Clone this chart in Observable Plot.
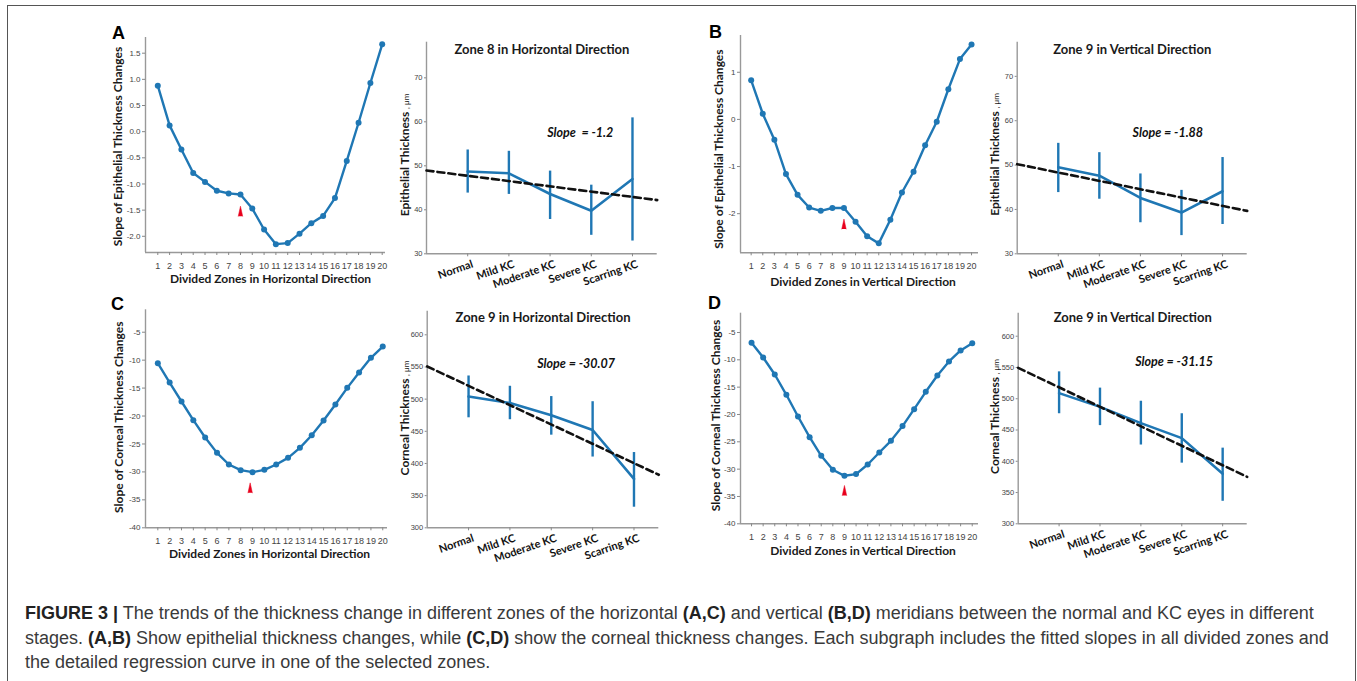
<!DOCTYPE html>
<html>
<head>
<meta charset="utf-8">
<script src="https://cdn.jsdelivr.net/npm/d3@7"></script>
<script src="https://cdn.jsdelivr.net/npm/@observablehq/plot@0.6"></script>
<style>
  body { margin: 0; background: #fff; }
  #fig { position: relative; width: 1357px; height: 681px; overflow: hidden; background: #fff; }
  #border { position: absolute; left: 7px; top: 5px; width: 1349px; height: 720px; border: 1.5px solid #555; box-sizing: border-box; }
  .panel { position: absolute; }
  .plabel { position: absolute; font: bold 18px "Liberation Sans", Arial, sans-serif; line-height: 18px; color: #000; }
  #caption { position: absolute; left: 25px; top: 601px; font: 18px "Liberation Sans", Arial, sans-serif; line-height: 24.5px; color: #3a3a3a; white-space: nowrap; }
  #caption b { color: #222; }
</style>
</head>
<body>
<div id="fig">
  <div id="border"></div>
  <div class="plabel" style="left:112px;top:24px">A</div>
  <div class="plabel" style="left:709px;top:23px">B</div>
  <div class="plabel" style="left:111px;top:295px">C</div>
  <div class="plabel" style="left:708px;top:294px">D</div>
  <div id="caption"><b>FIGURE 3 |</b> The trends of the thickness change in different zones of the horizontal <b>(A,C)</b> and vertical <b>(B,D)</b> meridians between the normal and KC eyes in different<br>stages. <b>(A,B)</b> Show epithelial thickness changes, while <b>(C,D)</b> show the corneal thickness changes. Each subgraph includes the fitted slopes in all divided zones and<br>the detailed regression curve in one of the selected zones.</div>
</div>
<script>
// ---------------- DATA ----------------
const zones = [1, 2, 3, 4, 5, 6, 7, 8, 9, 10, 11, 12, 13, 14, 15, 16, 17, 18, 19, 20];

// Slopes of thickness change per zone
const slopeEpiHorizontal = [0.88, 0.12, -0.34, -0.79, -0.96, -1.13, -1.18, -1.20, -1.47, -1.87, -2.15, -2.13, -1.95, -1.75, -1.61, -1.27, -0.56, 0.17, 0.93, 1.67];
const slopeEpiVertical   = [0.83, 0.12, -0.43, -1.16, -1.60, -1.87, -1.94, -1.88, -1.88, -2.17, -2.48, -2.63, -2.13, -1.55, -1.11, -0.55, -0.05, 0.64, 1.28, 1.59];
const slopeCorHorizontal = [-10.55, -14.0, -17.4, -20.74, -23.84, -26.59, -28.67, -29.69, -30.04, -29.63, -28.67, -27.48, -25.69, -23.43, -20.80, -17.94, -14.96, -12.21, -9.59, -7.56];
const slopeCorVertical   = [-6.89, -9.57, -12.68, -16.40, -20.37, -24.15, -27.56, -30.12, -31.22, -30.91, -29.15, -26.95, -24.82, -22.13, -19.02, -15.85, -12.87, -10.30, -8.29, -6.95];

// Selected-zone markers (zone, value at arrow base)
const markerZones  = [8, 9, 8.8, 9];
const markerValues = [-1.52, -2.22, -32.85, -33.9];

// Stages
const stages = ["Normal", "Mild KC", "Moderate KC", "Severe KC", "Scarring KC"];
const stagePos = [1, 2, 3, 4, 5];

// Zone 8 horizontal, epithelial
const epiHMean = [48.7, 48.3, 43.6, 39.8, 47.0];
const epiHLow  = [43.8, 43.5, 37.8, 34.2, 32.9];
const epiHHigh = [53.6, 53.3, 48.8, 45.6, 60.9];
// Zone 9 vertical, epithelial
const epiVMean = [49.5, 47.6, 42.6, 39.3, 44.1];
const epiVLow  = [43.8, 42.3, 37.0, 34.1, 36.6];
const epiVHigh = [54.9, 52.8, 48.0, 44.3, 51.7];
// Zone 9 horizontal, corneal
const corHMean = [504, 494, 475, 452, 376];
const corHLow  = [471, 468, 444, 410, 332];
const corHHigh = [536, 520, 504, 496, 417];
// Zone 9 vertical, corneal
const corVMean = [509, 487, 461, 437, 380];
const corVLow  = [476, 457, 426, 397, 336];
const corVHigh = [543, 517, 496, 476, 421];

// Regression fits (intercept at x = 0, slope per stage)
const fitIntercepts = [48.93, 50.2, 550.8, 549.4];
const fitSlopes     = [-1.2, -1.88, -30.07, -31.15];
const slopeLabels   = ["Slope\u00a0 = -1.2", "Slope = -1.88", "Slope = -30.07", "Slope = -31.15"];

// Tick values
const epiHTicks = [-2, -1.5, -1, -0.5, 0, 0.5, 1, 1.5];
const epiVTicks = [-2, -1, 0, 1];
const corTicks = [-40, -35, -30, -25, -20, -15, -10, -5];
const epiThickTicks = [30, 40, 50, 60, 70];
const corThickTicks = [300, 350, 400, 450, 500, 550, 600];

// ---------------- STYLE ----------------
const BLUE = "#1f77b4";
const TICKFONT = "'Liberation Sans', Arial, sans-serif";
const BOLDFONT = "Lato, 'Open Sans', sans-serif";
const AXISGRAY = "#999";

const fig = document.getElementById("fig");
function place(svg, left, top) {
  const d = document.createElement("div");
  d.className = "panel";
  d.style.left = left + "px";
  d.style.top = top + "px";
  d.appendChild(svg);
  fig.appendChild(d);
}

function zonePanel(cfg) {
  const data = zones.map((z, i) => ({zone: z, slope: cfg.values[i]}));
  const svg = Plot.plot({
    width: cfg.w, height: cfg.h,
    marginLeft: cfg.m[0], marginRight: cfg.m[1], marginTop: cfg.m[2], marginBottom: cfg.m[3],
    style: {background: "transparent", overflow: "visible", fontFamily: TICKFONT},
    x: {domain: cfg.xDomain},
    y: {domain: cfg.yDomain},
    marks: [
      Plot.ruleX([cfg.xDomain[0]], {stroke: AXISGRAY, strokeWidth: 1.4}),
      Plot.ruleY([cfg.yDomain[0]], {stroke: AXISGRAY, strokeWidth: 1.4}),
      Plot.axisY({ticks: cfg.yTicks, tickFormat: cfg.yFormat, tickSize: 3, tickPadding: 2, fontSize: 8, stroke: "#888", fill: "#444", label: null}),
      Plot.axisX({ticks: zones, tickFormat: d => String(d), tickSize: 3, tickPadding: 7, fontSize: 9, stroke: "#888", fill: "#444", label: null}),
      Plot.line(data, {x: "zone", y: "slope", stroke: BLUE, strokeWidth: 2.4}),
      Plot.dot(data, {x: "zone", y: "slope", r: 3, fill: BLUE}),
      Plot.vector([{x: cfg.marker, y: cfg.markerY}], {x: "x", y: "y", length: 10, shape: "spike", r: 2.2, fill: "#e8001c", stroke: "#e8001c", strokeWidth: 0.5}),
      Plot.text([cfg.yLabel], {text: d => d, frameAnchor: "left", textAnchor: "middle", lineAnchor: "middle", rotate: -90, dx: cfg.yl[0], dy: cfg.yl[1], fontFamily: BOLDFONT, fontWeight: "bold", fontSize: 12, fill: "#1a1a1a"}),
      Plot.text([cfg.xLabel], {text: d => d, frameAnchor: "bottom", textAnchor: "middle", lineAnchor: "middle", dx: cfg.xl[0], dy: cfg.xl[1], fontFamily: BOLDFONT, fontWeight: "bold", fontSize: 12, fill: "#1a1a1a"})
    ]
  });
  place(svg, cfg.left, cfg.top);
}

function stagePanel(cfg) {
  const data = stagePos.map((p, i) => ({pos: p, mean: cfg.mean[i], low: cfg.low[i], high: cfg.high[i]}));
  const fit = cfg.xDomain.map(x => ({x, y: cfg.intercept + cfg.slope * x}));
  const fullLabel = cfg.yLabel + " , μm";
  const svg = Plot.plot({
    width: cfg.w, height: cfg.h,
    marginLeft: cfg.m[0], marginRight: cfg.m[1], marginTop: cfg.m[2], marginBottom: cfg.m[3],
    style: {background: "transparent", overflow: "visible", fontFamily: TICKFONT},
    x: {domain: cfg.xDomain},
    y: {domain: cfg.yDomain},
    marks: [
      Plot.ruleX([cfg.xDomain[0]], {stroke: AXISGRAY, strokeWidth: 1.4}),
      Plot.ruleY([cfg.yDomain[0]], {stroke: AXISGRAY, strokeWidth: 1.4}),
      Plot.axisY({ticks: cfg.yTicks, tickFormat: d => String(d), tickSize: 2, tickPadding: 2, fontSize: 7.5, stroke: "#888", fill: "#444", label: null}),
      // category tick marks only
      Plot.axisX({ticks: stagePos, tickFormat: () => "", tickSize: 3, stroke: "#888", label: null}),
      // rotated category labels
      Plot.axisX({ticks: stagePos, tickFormat: i => stages[i - 1], tickRotate: -19, tickSize: 0, tickPadding: 6, dx: 5, dy: 4, fontFamily: BOLDFONT, fontWeight: "bold", fontSize: 11, fill: "#111", label: null}),
      Plot.ruleX(data, {x: "pos", y1: "low", y2: "high", stroke: BLUE, strokeWidth: 2.4}),
      Plot.line(data, {x: "pos", y: "mean", stroke: BLUE, strokeWidth: 2.6}),
      Plot.line(fit, {x: "x", y: "y", stroke: "#111", strokeWidth: 2.6, strokeDasharray: "7,4"}),
      Plot.text([cfg.title], {text: d => d, frameAnchor: "top", lineAnchor: "middle", dy: cfg.titleDy, fontFamily: BOLDFONT, fontWeight: "bold", fontSize: 13, fill: "#1a1a1a"}),
      Plot.text([cfg.slopeText], {text: d => d, x: cfg.slopePos[0], y: cfg.slopePos[1], textAnchor: "start", fontFamily: BOLDFONT, fontWeight: "bold", fontStyle: "italic", fontSize: 12.5, fill: "#111"}),
      Plot.text([fullLabel], {text: d => d, frameAnchor: "left", textAnchor: "middle", lineAnchor: "middle", rotate: -90, dx: cfg.yl[0], dy: cfg.yl[1], fontFamily: BOLDFONT, fontSize: 12, fill: "#1a1a1a"})
    ]
  });
  d3.select(svg).selectAll("text").filter(function () { return this.textContent === fullLabel; }).each(function () {
    const t = d3.select(this);
    t.text(null);
    t.append("tspan").attr("font-weight", "bold").text(cfg.yLabel);
    t.append("tspan").attr("font-size", "8px").attr("font-family", TICKFONT).text(" , μm");
  });
  place(svg, cfg.left, cfg.top);
}

// ---------------- PANELS ----------------
zonePanel({left: 100, top: 20, w: 290, h: 270, m: [45, 5, 17, 38],
  xDomain: [-0.04, 20.28], yDomain: [-2.31, 1.80], yTicks: epiHTicks, yFormat: d => d.toFixed(1),
  values: slopeEpiHorizontal, marker: markerZones[0], markerY: markerValues[0],
  yLabel: "Slope of Epithelial Thickness Changes", xLabel: "Divided Zones in Horizontal Direction",
  yl: [-27, 1.5], xl: [5, 27]});

zonePanel({left: 700, top: 20, w: 290, h: 270, m: [40, 12, 15, 37.7],
  xDomain: [0.08, 20.6], yDomain: [-2.83, 1.78], yTicks: epiVTicks, yFormat: d => String(d),
  values: slopeEpiVertical, marker: markerZones[1], markerY: markerValues[1],
  yLabel: "Slope of Epithelial Thickness Changes", xLabel: "Divided Zones in Vertical Direction",
  yl: [-21.7, 5], xl: [3.5, 29]});

zonePanel({left: 100, top: 290, w: 290, h: 270, m: [45, 3, 19.3, 32.7],
  xDomain: [-0.04, 20.4], yDomain: [-40, -0.99], yTicks: corTicks, yFormat: d => String(d),
  values: slopeCorHorizontal, marker: markerZones[2], markerY: markerValues[2],
  yLabel: "Slope of Corneal Thickness Changes", xLabel: "Divided Zones in Horizontal Direction",
  yl: [-26.3, -1.6], xl: [3, 26]});

zonePanel({left: 700, top: 290, w: 290, h: 270, m: [40, 12, 22.7, 36.7],
  xDomain: [0.05, 20.54], yDomain: [-40, -1.47], yTicks: corTicks, yFormat: d => String(d),
  values: slopeCorVertical, marker: markerZones[3], markerY: markerValues[3],
  yLabel: "Slope of Corneal Thickness Changes", xLabel: "Divided Zones in Vertical Direction",
  yl: [-24.7, -3], xl: [3.5, 27]});

stagePanel({left: 390, top: 20, w: 280, h: 270, m: [36, 13.3, 21.7, 36.7],
  xDomain: [0, 5.6], yDomain: [30, 78.1], yTicks: epiThickTicks,
  mean: epiHMean, low: epiHLow, high: epiHHigh,
  intercept: fitIntercepts[0], slope: fitSlopes[0], slopeText: slopeLabels[0], slopePos: [2.93, 57.4],
  title: "Zone 8 in Horizontal Direction", titleDy: 7.3,
  yLabel: "Epithelial Thickness", yl: [-21, 7]});

stagePanel({left: 980, top: 20, w: 280, h: 270, m: [36.7, 13.3, 21.7, 36.7],
  xDomain: [0, 5.6], yDomain: [30, 77.7], yTicks: epiThickTicks,
  mean: epiVMean, low: epiVLow, high: epiVHigh,
  intercept: fitIntercepts[1], slope: fitSlopes[1], slopeText: slopeLabels[1], slopePos: [2.81, 57.3],
  title: "Zone 9 in Vertical Direction", titleDy: 7.3,
  yLabel: "Epithelial Thickness", yl: [-21.7, 6.5]});

stagePanel({left: 390, top: 290, w: 280, h: 270, m: [36.7, 11.7, 20.7, 32.7],
  xDomain: [0, 5.6], yDomain: [300, 636.7], yTicks: corThickTicks,
  mean: corHMean, low: corHLow, high: corHHigh,
  intercept: fitIntercepts[2], slope: fitSlopes[2], slopeText: slopeLabels[2], slopePos: [2.66, 554.9],
  title: "Zone 9 in Horizontal Direction", titleDy: 7,
  yLabel: "Corneal Thickness", yl: [-21.7, -1.5]});

stagePanel({left: 980, top: 290, w: 280, h: 270, m: [37.7, 13.3, 22.7, 36.7],
  xDomain: [0, 5.6], yDomain: [300, 636.8], yTicks: corThickTicks,
  mean: corVMean, low: corVLow, high: corVHigh,
  intercept: fitIntercepts[3], slope: fitSlopes[3], slopeText: slopeLabels[3], slopePos: [2.86, 558.4],
  title: "Zone 9 in Vertical Direction", titleDy: 5,
  yLabel: "Corneal Thickness", yl: [-22.7, -2]});
</script>
</body>
</html>
